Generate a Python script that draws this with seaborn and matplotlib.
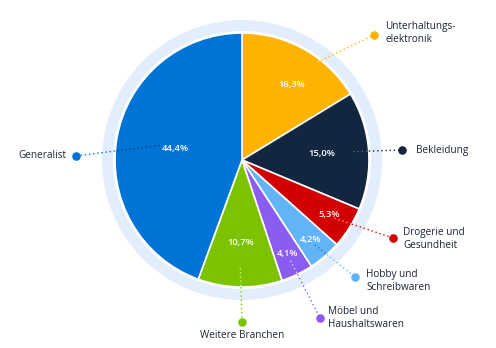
import numpy as np
import matplotlib
matplotlib.use("Agg")
import matplotlib.pyplot as plt
import seaborn as sns
from matplotlib.patches import Circle

sns.set_theme(style="white")
plt.rcParams['font.family'] = ['Open Sans', 'DejaVu Sans']

categories = ["Unterhaltungs-\nelektronik", "Bekleidung", "Drogerie und\nGesundheit",
              "Hobby und\nSchreibwaren", "Möbel und\nHaushaltswaren", "Weitere Branchen", "Generalist"]
values = [16.3, 15.0, 5.3, 4.2, 4.1, 10.7, 44.4]
pct_labels = ["16,3%", "15,0%", "5,3%", "4,2%", "4,1%", "10,7%", "44,4%"]
colors = ["#ffb300", "#12263f", "#d20000", "#63b4f6", "#8b5cf0", "#7cc200", "#0074d6"]
inner_line_colors = ["#ffe08a", "#5a6a80", "#ff9a9a", "#1f78c8", "#d8c8ff", "#d4f08a", "#123a6a"]

# layout (pixel coordinates, y from top)
W, H = 496, 348
cx, cy, R = 242, 160, 127
ring_r = 140
pct_r = [0.72, 0.63, 0.81, 0.83, 0.82, 0.65, 0.53]
dots = [(374, 35), (402, 150), (393, 238), (355, 277), (320, 318), (242, 322), (76, 156)]
line_start_r = [0.72, 0.88, 0.86, 0.88, 0.88, 0.85, 0.66]
text_pos = [(385, 33, "left"), (416, 150, "left"), (403, 239, "left"), (366, 281, "left"),
            (328, 318, "left"), (242, 336, "center"), (66, 156, "right")]

fig = plt.figure(figsize=(W / 100, H / 100), dpi=100)
ax = fig.add_axes([0, 0, 1, 1])

def P(x, y):
    return x, H - y

ax.add_patch(Circle(P(cx, cy), ring_r, facecolor="#e2eefc", edgecolor="none", zorder=0))
ax.add_patch(Circle(P(cx, cy), R + 2, facecolor="white", edgecolor="none", zorder=0.5))
ax.pie(values, colors=colors, startangle=90, counterclock=False, radius=R,
       center=P(cx, cy), wedgeprops=dict(edgecolor="white", linewidth=1.2), frame=True)
ax.set_xlim(0, W)
ax.set_ylim(0, H)
ax.set_aspect("equal")
ax.axis("off")

cum = np.cumsum([0] + values[:-1])
total = sum(values)
text_col = "#1c2536"
x0, y0 = P(cx, cy)
for i, v in enumerate(values):
    mid = (cum[i] + v / 2) / total * 2 * np.pi  # clockwise from top
    dx, dy = np.sin(mid), np.cos(mid)
    if i == 0:
        lx, ly = P(292, 85)
    else:
        lx, ly = x0 + dx * R * pct_r[i], y0 + dy * R * pct_r[i]
    ax.text(lx, ly, pct_labels[i], color="white", fontsize=6.8, fontweight="semibold",
            ha="center", va="center", zorder=5)
    # leader line
    if i == 0:
        sx, sy = P(318, 62)
    else:
        sx, sy = x0 + dx * R * line_start_r[i], y0 + dy * R * line_start_r[i]
    ex, ey = P(*dots[i])
    # point where the line leaves the pie
    d = np.array([ex - sx, ey - sy])
    ts = np.linspace(0, 1, 400)
    pts = np.array([sx, sy])[None, :] + ts[:, None] * d[None, :]
    rr = np.hypot(pts[:, 0] - x0, pts[:, 1] - y0)
    idx = np.argmax(rr > R) if np.any(rr > R) else 0
    bx, by = pts[idx]
    ax.plot([sx, bx], [sy, by], linestyle=(0, (1, 2)), color=inner_line_colors[i], lw=1, zorder=4)
    ax.plot([bx, ex], [by, ey], linestyle=(0, (1, 2)), color=colors[i], lw=1, zorder=4)
    ax.scatter([ex], [ey], s=38, color=colors[i], zorder=6, linewidths=0)
    tx, ty, ha = text_pos[i]
    ax.text(*P(tx, ty), categories[i], fontsize=7.2, color=text_col, ha=ha, va="center",
            linespacing=1.15, zorder=6)

fig.savefig("out.png", dpi=100)
